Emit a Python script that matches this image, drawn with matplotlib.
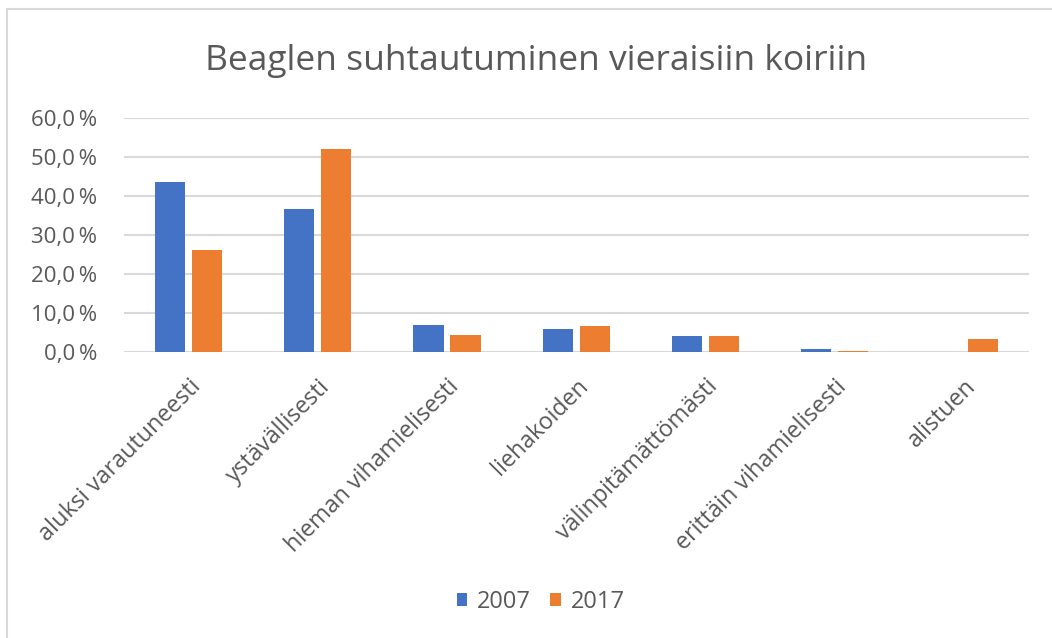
import matplotlib.pyplot as plt
import numpy as np
from matplotlib.patches import Rectangle
from matplotlib.ticker import FuncFormatter

categories = ["aluksi varautuneesti", "ystävällisesti", "hieman vihamielisesti",
              "liehakoiden", "välinpitämättömästi", "erittäin vihamielisesti", "alistuen"]
vals_2007 = [43.6, 36.7, 7.0, 6.0, 4.2, 0.9, 0.0]
vals_2017 = [26.2, 52.2, 4.6, 6.8, 4.2, 0.5, 3.4]

blue = "#4472c4"
orange = "#ed7d31"
gray = "#595959"

plt.rcParams["font.family"] = ["Open Sans", "DejaVu Sans"]

fig = plt.figure(figsize=(10.52, 6.38), dpi=100)
ax = fig.add_axes([0.1177, 0.4475, 0.8603, 0.3668])

# kehys kaavion ympärillä
fig.patches.append(Rectangle((7 / 1052, -0.05), 1.1, 1 - 9 / 638 + 0.05,
                             transform=fig.transFigure, fill=False,
                             edgecolor="#d9d9d9", linewidth=1.5))

x = np.arange(len(categories))
w = 0.233
off = 0.143
ax.bar(x - off, vals_2007, w, color=blue, linewidth=0, label="2007", zorder=3)
ax.bar(x + off, vals_2017, w, color=orange, linewidth=0, label="2017", zorder=3)

ax.set_xlim(-0.5, len(categories) - 0.5)
ax.set_ylim(0, 60)
ax.set_yticks(np.arange(0, 61, 10))
ax.yaxis.set_major_formatter(FuncFormatter(lambda v, p: f"{v:.1f}".replace(".", ",") + "\u2009%"))
ax.grid(axis="y", color="#d9d9d9", linewidth=1.5, zorder=0)
for s in ax.spines.values():
    s.set_visible(False)
ax.tick_params(axis="both", length=0, colors=gray)
ax.tick_params(axis="y", pad=19, labelsize=16)
ax.set_xticks(x)
ax.set_xticklabels(categories, rotation=45, ha="right", rotation_mode="anchor")
ax.tick_params(axis="x", pad=16, labelsize=16.8)

fig.text(0.51, 1 - 61 / 638, "Beaglen suhtautuminen vieraisiin koiriin",
         ha="center", va="center", fontsize=25.5, color=gray)

fig.legend(loc="center", bbox_to_anchor=(0.514, 1 - 602 / 638), ncol=2, frameon=False,
           fontsize=17, labelcolor=gray, handlelength=0.45, handleheight=0.45,
           handletextpad=0.42, columnspacing=0.8)

fig.savefig("out.png", dpi=100)
